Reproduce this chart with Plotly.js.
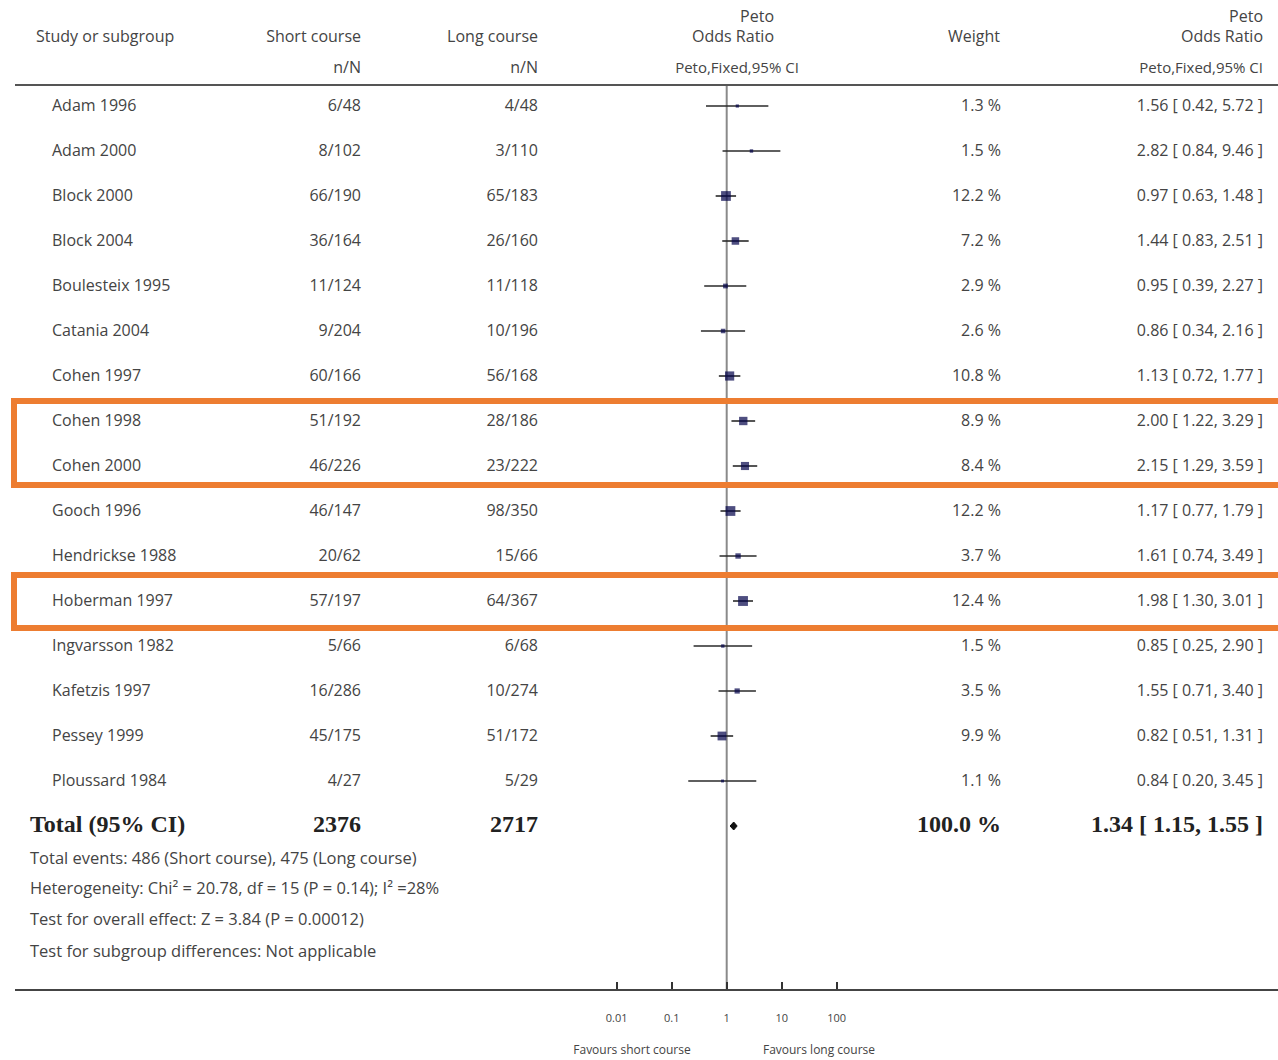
<!DOCTYPE html>
<html>
<head>
<meta charset="utf-8">
<script src="https://cdn.plot.ly/plotly-3.0.1.min.js"></script>
<style>html,body{margin:0;padding:0;background:#fff;}#chart{width:1278px;height:1060px;}</style>
</head>
<body>
<div id="chart"></div>
<script>
// ---- data ----
const studies = ['Adam 1996','Adam 2000','Block 2000','Block 2004','Boulesteix 1995','Catania 2004','Cohen 1997','Cohen 1998','Cohen 2000','Gooch 1996','Hendrickse 1988','Hoberman 1997','Ingvarsson 1982','Kafetzis 1997','Pessey 1999','Ploussard 1984'];
const shortCourse = ['6/48','8/102','66/190','36/164','11/124','9/204','60/166','51/192','46/226','46/147','20/62','57/197','5/66','16/286','45/175','4/27'];
const longCourse = ['4/48','3/110','65/183','26/160','11/118','10/196','56/168','28/186','23/222','98/350','15/66','64/367','6/68','10/274','51/172','5/29'];
const weights = [1.3,1.5,12.2,7.2,2.9,2.6,10.8,8.9,8.4,12.2,3.7,12.4,1.5,3.5,9.9,1.1];
const oddsRatio = [1.56,2.82,0.97,1.44,0.95,0.86,1.13,2.00,2.15,1.17,1.61,1.98,0.85,1.55,0.82,0.84];
const ciLow = [0.42,0.84,0.63,0.83,0.39,0.34,0.72,1.22,1.29,0.77,0.74,1.30,0.25,0.71,0.51,0.20];
const ciHigh = [5.72,9.46,1.48,2.51,2.27,2.16,1.77,3.29,3.59,1.79,3.49,3.01,2.90,3.40,1.31,3.45];
const totalLabel = 'Total (95% CI)';
const totalShort = '2376';
const totalLong = '2717';
const totalWeight = 100.0;
const totalOR = 1.34, totalLow = 1.15, totalHigh = 1.55;
const footnotes = [
  'Total events: 486 (Short course), 475 (Long course)',
  'Heterogeneity: Chi² = 20.78, df = 15 (P = 0.14); I² =28%',
  'Test for overall effect: Z = 3.84 (P = 0.00012)',
  'Test for subgroup differences: Not applicable'
];
const tickVals = [0.01,0.1,1,10,100];
const tickText = ['0.01','0.1','1','10','100'];
const favourLabels = ['Favours short course','Favours long course'];

// ---- layout helpers ----
const W = 1278, H = 1060;
const rowY = i => 106 + 45 * i;
const totalY = rowY(studies.length);
const footY = [860, 890, 921, 953];
const ONE_PX = 726.7, DEC = 55, AX_L = 15;
const FONT = '"Open Sans", "DejaVu Sans", sans-serif';
const GREY = '#444';

function textTrace(xs, ys, texts, pos, size, color, family) {
  return {type:'scatter', mode:'text', xaxis:'x2', yaxis:'y', x:xs, y:ys, text:texts,
    textposition:pos, textfont:{family:family||FONT, size:size, color:color||GREY},
    hoverinfo:'skip', showlegend:false, cliponaxis:false};
}
const rep = (v, n) => Array(n).fill(v);
const n = studies.length;
const ys = studies.map((_, i) => rowY(i));

const traces = [];
// reference line at OR = 1
traces.push({type:'scatter', mode:'lines', x:[1,1], y:[85,990], line:{color:'#8a8a8a', width:2},
  hoverinfo:'skip', showlegend:false});
// CI lines
const cx = [], cy = [];
for (let i = 0; i < n; i++) { cx.push(ciLow[i], ciHigh[i], null); cy.push(ys[i], ys[i], null); }
traces.push({type:'scatter', mode:'lines', x:cx, y:cy, line:{color:'#2a2a2a', width:1.6},
  hoverinfo:'skip', showlegend:false});
// squares
traces.push({type:'scatter', mode:'markers', x:oddsRatio, y:ys,
  marker:{symbol:'square', color:'#03034a', size:weights.map(w => 2.8 * Math.sqrt(w)), line:{width:0}},
  hoverinfo:'skip', showlegend:false});
// total diamond
traces.push({type:'scatter', mode:'lines', fill:'toself', fillcolor:'#111',
  x:[totalLow, totalOR, totalHigh, totalOR, totalLow], y:[totalY, totalY-4, totalY, totalY+4, totalY],
  line:{color:'#111', width:1}, hoverinfo:'skip', showlegend:false});

// header texts
traces.push(textTrace([36], [38], ['Study or subgroup'], 'middle right', 16));
traces.push(textTrace([361, 538], [38, 38], ['Short course', 'Long course'], 'middle left', 16));
traces.push(textTrace([361, 538], [69, 69], ['n/N', 'n/N'], 'middle left', 16));
traces.push(textTrace([774, 774, 1263, 1263], [18, 38, 18, 38], ['Peto', 'Odds Ratio', 'Peto', 'Odds Ratio'], 'middle left', 16));
traces.push(textTrace([737], [69], ['Peto,Fixed,95% CI'], 'middle center', 15));
traces.push(textTrace([1263], [69], ['Peto,Fixed,95% CI'], 'middle left', 15));
traces.push(textTrace([974], [38], ['Weight'], 'middle center', 16));

// study rows
traces.push(textTrace(rep(52, n), ys.map(y => y + 1), studies, 'middle right', 16));
traces.push(textTrace(rep(361, n), ys.map(y => y + 1), shortCourse, 'middle left', 16));
traces.push(textTrace(rep(538, n), ys.map(y => y + 1), longCourse, 'middle left', 16));
traces.push(textTrace(rep(1001, n), ys.map(y => y + 1), weights.map(w => w.toFixed(1) + ' %'), 'middle left', 16));
traces.push(textTrace(rep(1263, n), ys.map(y => y + 1),
  oddsRatio.map((o, i) => o.toFixed(2) + ' [ ' + ciLow[i].toFixed(2) + ', ' + ciHigh[i].toFixed(2) + ' ]'),
  'middle left', 16));

// total row
const SERIF = '"Liberation Serif", "DejaVu Serif", serif';
traces.push(textTrace([30], [totalY], ['<b>' + totalLabel + '</b>'], 'middle right', 24, '#222', SERIF));
traces.push(textTrace([361, 538, 1001], [totalY, totalY, totalY],
  ['<b>' + totalShort + '</b>', '<b>' + totalLong + '</b>', '<b>' + totalWeight.toFixed(1) + ' %</b>'],
  'middle left', 24, '#222', SERIF));
traces.push(textTrace([1263], [totalY],
  ['<b>' + totalOR.toFixed(2) + ' [ ' + totalLow.toFixed(2) + ', ' + totalHigh.toFixed(2) + ' ]</b>'],
  'middle left', 24, '#222', SERIF));

// footnotes
traces.push(textTrace(rep(30, footnotes.length), footY, footnotes, 'middle right', 16.5));

// favours labels
traces.push(textTrace([632, 819], [1051, 1051], favourLabels, 'middle center', 12));

const logL = -(ONE_PX - AX_L) / DEC;
const logR = (W - ONE_PX) / DEC;

const layout = {
  width: W, height: H,
  margin: {l:0, r:0, t:0, b:0, pad:0},
  paper_bgcolor:'#fff', plot_bgcolor:'rgba(0,0,0,0)',
  showlegend:false,
  xaxis: {type:'log', domain:[AX_L / W, 1], range:[logL, logR], anchor:'free', position:1 - 990 / H, side:'bottom',
    showline:true, linecolor:'#444', linewidth:2, showgrid:false, zeroline:false,
    ticks:'inside', ticklen:7, tickwidth:2, tickcolor:'#333',
    tickvals:tickVals, ticktext:tickText, ticklabelstandoff:18,
    tickfont:{family:FONT, size:11, color:GREY}, fixedrange:true},
  xaxis2: {anchor:'y', domain:[0, 1], range:[0, W], visible:false, fixedrange:true},
  yaxis: {domain:[0, 1], range:[H, 0], visible:false, fixedrange:true},
  shapes: [
    {type:'line', xref:'x2', yref:'y', x0:15, x1:W, y0:85, y1:85, line:{color:'#555', width:2}},
    {type:'rect', xref:'x2', yref:'y', x0:14, x1:W + 20, y0:401, y1:485, line:{color:'#ED7D31', width:6}},
    {type:'rect', xref:'x2', yref:'y', x0:14, x1:W + 20, y0:575, y1:628, line:{color:'#ED7D31', width:6}}
  ]
};

Plotly.newPlot('chart', traces, layout, {staticPlot:true, displayModeBar:false});
</script>
</body>
</html>
